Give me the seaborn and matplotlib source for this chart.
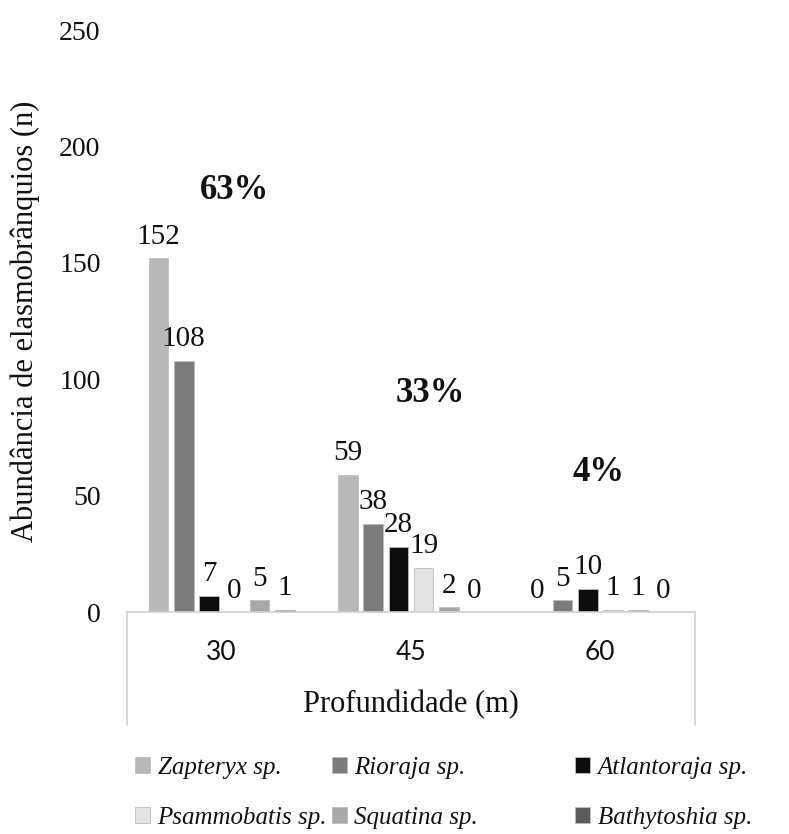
import matplotlib
matplotlib.use("Agg")
import matplotlib.pyplot as plt
import seaborn as sns
import pandas as pd

depths = ["30", "45", "60"]
species = ["Zapteryx sp.", "Rioraja sp.", "Atlantoraja sp.",
           "Psammobatis sp.", "Squatina sp.", "Bathytoshia sp."]
zapteryx = [152, 59, 0]
rioraja = [108, 38, 5]
atlantoraja = [7, 28, 10]
psammobatis = [0, 19, 1]
squatina = [5, 2, 1]
bathytoshia = [1, 0, 0]
percent_labels = ["63%", "33%", "4%"]
yticks = [0, 50, 100, 150, 200, 250]

colors = ["#b9b9b9", "#7b7b7b", "#0c0c0c", "#e3e3e3", "#a8a8a8", "#5c5c5c"]

series = [zapteryx, rioraja, atlantoraja, psammobatis, squatina, bathytoshia]
rows = []
for sp, vals in zip(species, series):
    for d, v in zip(depths, vals):
        rows.append({"Profundidade": d, "Espécie": sp, "n": v})
df = pd.DataFrame(rows)

sns.set_style("white")
plt.rcParams["font.family"] = ["Liberation Serif", "DejaVu Serif"]
plt.rcParams["text.color"] = "#111111"

fig = plt.figure(figsize=(7.89, 8.34), dpi=100)
ax = fig.add_axes([127/789, 1-612/834, (695-127)/789, (612-30)/834])

sns.barplot(data=df, x="Profundidade", y="n", hue="Espécie", order=depths,
            hue_order=species, palette=colors, width=0.8, gap=0.22,
            ax=ax, legend=True, saturation=1, edgecolor="#bdbdbd", linewidth=0.6)

for cont in ax.containers:
    ax.bar_label(cont, padding=6, fontsize=21, fontfamily="Liberation Serif",
                 color="#111111")

ax.set_ylim(0, 250)
ax.set_xlim(-0.5, 2.5)
ax.set_yticks(yticks)
ax.set_yticklabels([str(t) for t in yticks], fontsize=20)
ax.tick_params(axis="y", length=0, pad=19, labelcolor="#111111")
ax.tick_params(axis="x", length=0, pad=20, labelsize=19, labelcolor="#111111")
for lab in ax.get_xticklabels():
    lab.set_fontfamily("Lato")

for s in ["top", "right", "left"]:
    ax.spines[s].set_visible(False)
ax.spines["bottom"].set_color("#d0d0d0")
ax.spines["bottom"].set_linewidth(1.2)

drop = (725 - 612) / 582
for xx in (0, 1):
    ax.plot([xx, xx], [0, -drop], transform=ax.transAxes, color="#d0d0d0",
            lw=1.2, clip_on=False)

ax.set_xlabel("Profundidade (m)", fontsize=22, labelpad=18, color="#111111")
ax.set_ylabel("Abundância de elasmobrânquios (n)", fontsize=22, labelpad=14,
              color="#111111")

pct_pos = [(0.07, 181), (1.10, 94), (1.99, 60)]
for (px, py), t in zip(pct_pos, percent_labels):
    ax.text(px, py, t, ha="center", va="center", fontsize=25, fontweight="bold",
            color="#111111")

handles, labels = ax.get_legend_handles_labels()
ax.get_legend().remove()
# legend entry positions (pixels): marker left x, row center y
leg_x = [135, 332, 575, 135, 332, 575]
leg_y = [768, 768, 768, 818, 818, 818]
for h, l, lx, ly in zip(handles, labels, leg_x, leg_y):
    fig.legend([h], [l], loc="center left",
               bbox_to_anchor=(lx/789, 1 - ly/834), frameon=False,
               prop={"family": "Liberation Serif", "style": "italic", "size": 18},
               handlelength=0.6, handleheight=0.6, handletextpad=0.3,
               borderpad=0, borderaxespad=0)

fig.savefig("out.png", dpi=100)
